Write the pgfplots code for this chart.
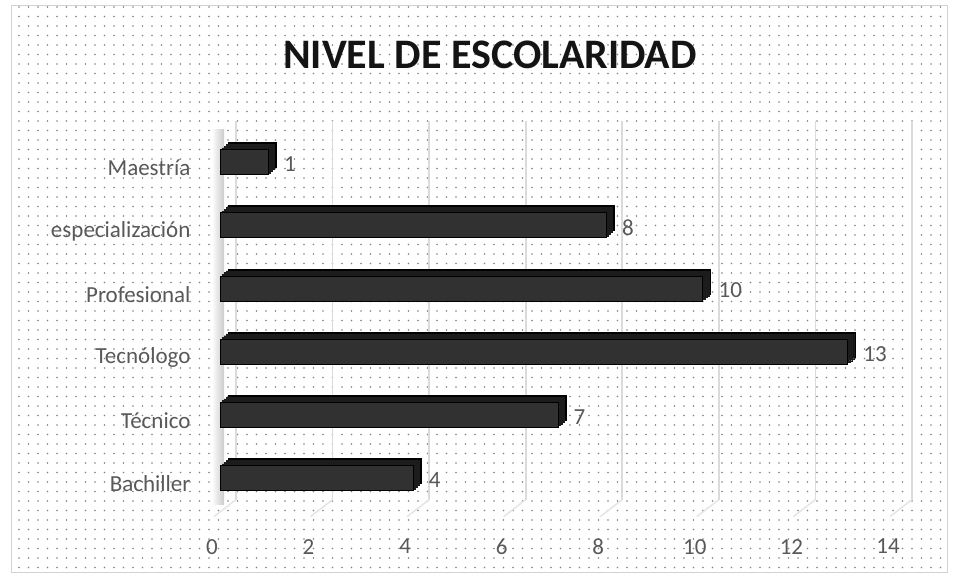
\documentclass[border=0pt]{standalone}
\usepackage{pgfplots}
\pgfplotsset{compat=1.18}
\usepackage{fontspec}
\setmainfont{Carlito}
\usetikzlibrary{patterns.meta}
\definecolor{labelgray}{HTML}{595959}
\definecolor{barfront}{HTML}{313131}
\definecolor{barback}{HTML}{1c1c1c}
\begin{document}
\begin{tikzpicture}
\useasboundingbox (0pt,0pt) rectangle (957pt,577pt);
\fill[white] (0pt,0pt) rectangle (957pt,577pt);
\fill[pattern={Dots[radius=0.9pt,distance=9.5pt]}, pattern color=black!50] (11pt,4pt) rectangle (947pt,571pt);
\draw[gray!35, line width=1pt] (11pt,4pt) rectangle (947pt,571pt);
\node[font=\fontsize{42}{48}\selectfont\bfseries, text=black!92] at (490pt,522pt) {NIVEL DE ESCOLARIDAD};
\shade[left color=gray!5, right color=gray!40] (213pt,72pt) rectangle (224pt,447pt);
\begin{axis}[
  at={(220pt,67.4pt)}, anchor=south west,
  scale only axis, width=676pt, height=379pt,
  xmin=0, xmax=14, ymin=-0.5, ymax=5.5,
  axis line style={draw=none},
  major tick length=0pt,
  xtick={0,2,...,14},
  ytick={0,...,5},
  yticklabels={Bachiller,Técnico,Tecnólogo,Profesional,especialización,Maestría},
  xmajorgrids,
  major grid style={draw=gray!28, line width=1.6pt, xshift=16pt, yshift=10pt},
  /pgf/number format/assume math mode=true,
  ticklabel style={font=\fontsize{23}{27}\selectfont, text=labelgray},
  xticklabel style={yshift=-26pt, xshift=-8pt},
  yticklabel style={xshift=-26pt, yshift=-6pt},
  clip=false,
  bar width=25pt,
]
\pgfplotsinvokeforeach{0,2,4,6,8,10,12,14}{
  \draw[gray!20, line width=1.5pt] ([xshift=16pt,yshift=10pt]axis cs:#1,-0.5) -- ([xshift=-6pt,yshift=-7pt]axis cs:#1,-0.5);
}
\addplot[xbar, bar shift=0pt, fill=black, draw=black, line width=0.8pt, xshift=8pt, yshift=7pt]
  coordinates {(4,0) (7,1) (13,2) (10,3) (8,4) (1,5)};
\addplot[xbar, bar shift=0pt, fill=barback, draw=barback, line width=0.3pt, xshift=6pt, yshift=5.25pt]
  coordinates {(4,0) (7,1) (13,2) (10,3) (8,4) (1,5)};
\addplot[xbar, bar shift=0pt, fill=barback, draw=barback, line width=0.3pt, xshift=4pt, yshift=3.5pt]
  coordinates {(4,0) (7,1) (13,2) (10,3) (8,4) (1,5)};
\addplot[xbar, bar shift=0pt, fill=barback, draw=barback, line width=0.3pt, xshift=2pt, yshift=1.75pt]
  coordinates {(4,0) (7,1) (13,2) (10,3) (8,4) (1,5)};
\addplot[xbar, bar shift=0pt, fill=barfront, draw=black, line width=0.8pt,
  nodes near coords,
  nodes near coords style={anchor=west, xshift=12pt, yshift=-2pt, text=labelgray, font=\fontsize{23}{27}\selectfont}]
  coordinates {(4,0) (7,1) (13,2) (10,3) (8,4) (1,5)};
\end{axis}
\end{tikzpicture}
\end{document}
